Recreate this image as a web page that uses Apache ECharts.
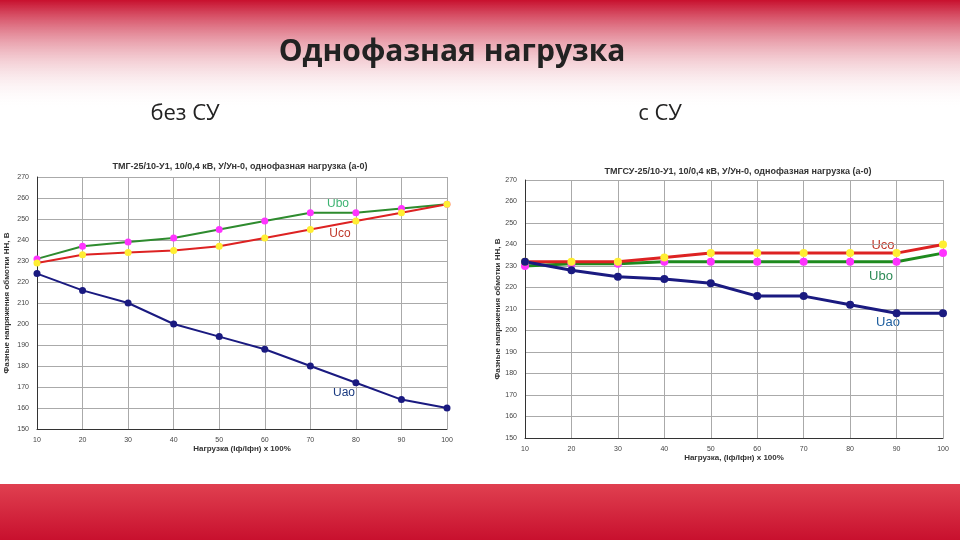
<!DOCTYPE html><html><head><meta charset="utf-8"><script src="https://cdn.jsdelivr.net/npm/echarts@6/dist/echarts.min.js"></script>
<style>html,body{margin:0;padding:0}#c{width:960px;height:540px}</style></head><body><div id="c"></div><script>
const loads=['10','20','30','40','50','60','70','80','90','100'];
const L_Ubo=[231,237,239,241,245,249,253,253,255,257];
const L_Uco=[229,233,234,235,237,241,245,249,253,257];
const L_Uao=[224,216,210,200,194,188,180,172,164,160];
const R_Uco=[232,232,232,234,236,236,236,236,236,240];
const R_Ubo=[230,231,231,232,232,232,232,232,232,236];
const R_Uao=[232,228,225,224,222,216,216,212,208,208];
const ch=echarts.init(document.getElementById('c'));
const grids=[{left:37,right:513,top:177,bottom:111},{left:525,right:17,top:180,bottom:102}];
function xa(i){return {type:'category',gridIndex:i,data:loads,boundaryGap:false,axisLine:{lineStyle:{color:'#333'}},axisTick:{show:false},
 axisLabel:{fontSize:7,color:'#444'},splitLine:{show:true,lineStyle:{color:'#aaa'}},
 name:i?'Нагрузка, (Iф/Iфн) х 100%':'Нагрузка (Iф/Iфн) х 100%',nameLocation:'middle',nameGap:12,nameTextStyle:{fontSize:8,fontWeight:'bold',color:'#333'}};}
function ya(i){return {type:'value',gridIndex:i,min:150,max:270,interval:10,axisLine:{show:true,lineStyle:{color:'#333'}},
 axisLabel:{fontSize:7,color:'#444'},splitLine:{lineStyle:{color:'#aaa'}},
 name:'Фазные напряжения обмотки НН, В',nameLocation:'middle',nameGap:i?22:26,nameTextStyle:{fontSize:8,fontWeight:'bold',color:'#333'}};}
function s(i,d,lc,mc,w){return {type:'line',xAxisIndex:i,yAxisIndex:i,data:d,symbol:'circle',symbolSize:w+5,lineStyle:{color:lc,width:w},itemStyle:{color:mc},z:3};}
ch.setOption({animation:false,
 graphic:[
  {type:'rect',shape:{x:0,y:0,width:960,height:110},style:{fill:new echarts.graphic.LinearGradient(0,0,0,1,[{offset:0,color:'#c8102e'},{offset:1,color:'rgba(255,255,255,0)'}])},z:-10},
  {type:'rect',shape:{x:0,y:484,width:960,height:56},style:{fill:new echarts.graphic.LinearGradient(0,0,0,1,[{offset:0,color:'#e04050'},{offset:1,color:'#c8102e'}])},z:-10},
  {type:'rect',shape:{x:2,y:150,width:456,height:333},style:{fill:'#fff'},z:-5},
  {type:'rect',shape:{x:481,y:157,width:470,height:327},style:{fill:'#fff'},z:-5},
  {type:'text',x:452,y:52,style:{text:'Однофазная нагрузка',font:'bold 30px "Open Sans"',fill:'#222',align:'center',verticalAlign:'middle'}},
  {type:'text',x:185,y:114,style:{text:'без СУ',font:'22px "Open Sans"',fill:'#222',align:'center',verticalAlign:'middle'}},
  {type:'text',x:660,y:114,style:{text:'с СУ',font:'22px "Open Sans"',fill:'#222',align:'center',verticalAlign:'middle'}},
  {type:'text',x:240,y:167,style:{text:'ТМГ-25/10-У1, 10/0,4 кВ, У/Ун-0, однофазная нагрузка (а-0)',font:'bold 9px "Liberation Sans"',fill:'#333',align:'center',verticalAlign:'middle'}},
  {type:'text',x:738,y:172,style:{text:'ТМГСУ-25/10-У1, 10/0,4 кВ, У/Ун-0, однофазная нагрузка (а-0)',font:'bold 9px "Liberation Sans"',fill:'#333',align:'center',verticalAlign:'middle'}},
  {type:'text',x:338,y:204,style:{text:'Ubo',font:'12px "Liberation Sans"',fill:'#3cb371',align:'center',verticalAlign:'middle'}},
  {type:'text',x:340,y:234,style:{text:'Uco',font:'12px "Liberation Sans"',fill:'#c0392b',align:'center',verticalAlign:'middle'}},
  {type:'text',x:344,y:393,style:{text:'Uao',font:'12px "Liberation Sans"',fill:'#1a3a80',align:'center',verticalAlign:'middle'}},
  {type:'text',x:883,y:245,style:{text:'Uco',font:'13px "Liberation Sans"',fill:'#c0392b',align:'center',verticalAlign:'middle'}},
  {type:'text',x:881,y:276,style:{text:'Ubo',font:'13px "Liberation Sans"',fill:'#2e8b57',align:'center',verticalAlign:'middle'}},
  {type:'text',x:888,y:322,style:{text:'Uao',font:'13px "Liberation Sans"',fill:'#2060a0',align:'center',verticalAlign:'middle'}}
 ],
 grid:grids,xAxis:[xa(0),xa(1)],yAxis:[ya(0),ya(1)],
 series:[s(0,L_Ubo,'#2e8b2e','#ff33ff',2),s(0,L_Uco,'#dd2222','#ffee33',2),s(0,L_Uao,'#1a1a80','#1a1a80',2),
  s(1,R_Ubo,'#1e8a1e','#ff33ff',3),s(1,R_Uco,'#dd2222','#ffee33',3),s(1,R_Uao,'#1a1a80','#1a1a80',3)]
});
</script></body></html>
